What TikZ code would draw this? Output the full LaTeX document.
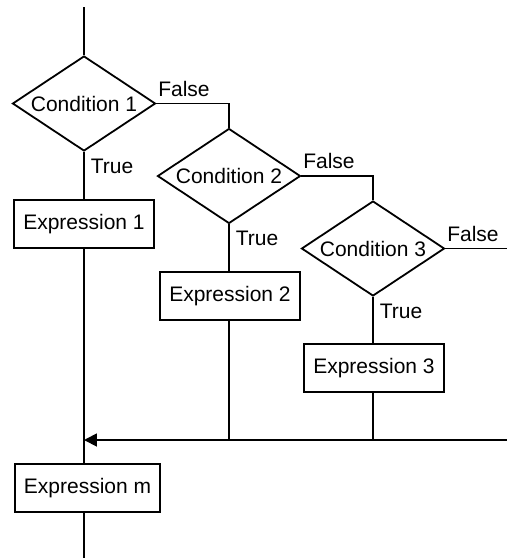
\documentclass[tikz,border=0pt]{standalone}
\usepackage{fontspec}
\setmainfont{Liberation Sans}
\usetikzlibrary{shapes.geometric,arrows.meta}
\tikzset{
  cond/.style={draw, diamond, aspect=1.5, inner sep=0pt, minimum width=71.5pt, minimum height=47.5pt},
  expr/.style={draw, rectangle, inner xsep=4.5pt, inner ysep=0pt, minimum height=24pt},
  truelbl/.style={inner sep=3pt, anchor=north west},
  falselbl/.style={inner xsep=0.5pt, inner ysep=3pt, anchor=south west},
}
\begin{document}
\begin{tikzpicture}[x=0.5pt, y=-0.5pt, line width=0.9pt, font=\fontsize{10.5}{12}\selectfont]
    \useasboundingbox (0,0) rectangle (507,559);
    % conditions
    \node[cond] (cond1) at (84,103.5) {Condition 1};
    \node[cond] (cond2) at (229,176) {Condition 2};
    \node[cond] (cond3) at (373,248.5) {Condition 3};
    % expressions
    \node[expr] (expr1) at (84,224) {Expression 1};
    \node[expr] (expr2) at (230,296) {Expression 2};
    \node[expr] (expr3) at (374,368) {Expression 3};
    \node[expr, anchor=west] (exprm) at (14,488) {Expression m};
    % labels
    \node[falselbl] (false1) at (cond1.east) {False};
    \node[falselbl] (false2) at (cond2.east) {False};
    \node[falselbl] (false3) at (cond3.east) {False};
    \node[truelbl] (true1) at (cond1.south) {True};
    \node[truelbl] (true2) at (cond2.south) {True};
    \node[truelbl] (true3) at (cond3.south) {True};
    % free ends
    \coordinate (entry) at (84,7);
    \coordinate (exit) at (84,558);
    \coordinate (out3) at (507,248.5);
    \coordinate (back) at (507,440);
    \coordinate (merge) at (84,440);
    % connectors
    \draw (entry) -- (cond1.north);
    \draw (cond1.south) -- (expr1.north);
    \draw (expr1.south) -- (expr1.south |- exprm.north);
    \draw (expr1.south |- exprm.south) -- (exit);
    \draw (cond1.east) -| (cond2.north);
    \draw (cond2.south) -- (cond2.south |- expr2.north);
    \draw (cond2.south |- expr2.south) -- (cond2.south |- back);
    \draw (cond2.east) -| (cond3.north);
    \draw (cond3.east) -- (out3);
    \draw (cond3.south) -- (cond3.south |- expr3.north);
    \draw (cond3.south |- expr3.south) -- (cond3.south |- back);
    \draw[-{Triangle[length=6.5pt, width=6.5pt]}] (back) -- (merge);
\end{tikzpicture}
\end{document}
